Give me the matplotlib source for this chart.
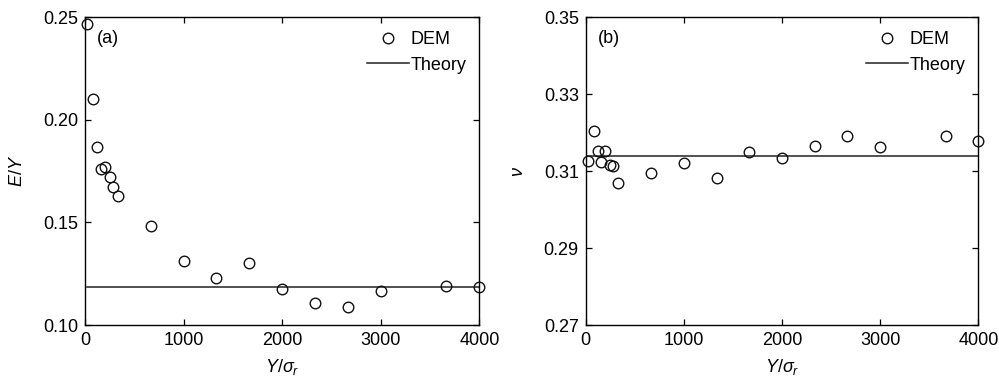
import matplotlib
matplotlib.use("Agg")
from matplotlib import pyplot as plt

plt.rcParams['font.family'] = ['Liberation Sans', 'DejaVu Sans']
plt.rcParams['mathtext.fontset'] = 'custom'
plt.rcParams['mathtext.rm'] = 'Liberation Sans'
plt.rcParams['mathtext.it'] = 'Liberation Sans:italic'

# DEM data
ratio = [25, 80, 125, 160, 200, 250, 280, 330, 667, 1000, 1333, 1667, 2000, 2333, 2667, 3000, 3667, 4000]
e_over_y = [0.2466, 0.2102, 0.1866, 0.1761, 0.1772, 0.1722, 0.1671, 0.1629, 0.1481, 0.1314,
            0.1229, 0.1301, 0.1176, 0.1109, 0.1090, 0.1164, 0.1192, 0.1184]
poisson = [0.3126, 0.3204, 0.3152, 0.3123, 0.3152, 0.3115, 0.3113, 0.3068, 0.3094, 0.3122,
           0.3082, 0.3149, 0.3134, 0.3165, 0.3191, 0.3163, 0.3191, 0.3178]

# theory lines
theory_x_a = [25, 4000]
theory_a = [0.1184, 0.1184]
theory_x_b = [0, 4000]
theory_b = [0.3140, 0.3140]

fs = 13
fig = plt.figure(figsize=(9.99, 3.83), dpi=100)
ax1 = fig.add_axes([0.0851, 0.1514, 0.3947, 0.8034])
ax2 = fig.add_axes([0.5863, 0.1514, 0.3930, 0.8034])

panels = [
    (ax1, e_over_y, theory_x_a, theory_a, "(a)", r"$E/Y$", (0.10, 0.25), [0.10, 0.15, 0.20, 0.25]),
    (ax2, poisson, theory_x_b, theory_b, "(b)", r"$\nu$", (0.27, 0.35), [0.27, 0.29, 0.31, 0.33, 0.35]),
]

for ax, vals, tx, ty, tag, ylab, ylim, yticks in panels:
    ax.plot(ratio, vals, "o", mfc="none", mec="#111111", ms=7.6, mew=1.0, label="DEM", clip_on=False, zorder=3)
    ax.plot(tx, ty, "-", color="#222222", lw=1.1, label="Theory")
    ax.set_xlim(0, 4000)
    ax.set_ylim(*ylim)
    ax.set_xticks([0, 1000, 2000, 3000, 4000])
    ax.set_yticks(yticks)
    ax.set_yticklabels(["%.2f" % v for v in yticks])
    ax.tick_params(direction="in", top=True, right=True, length=4.5, width=0.9, labelsize=fs, pad=5)
    for s in ax.spines.values():
        s.set_linewidth(1.0)
    ax.set_xlabel(r"$Y/\sigma_r$", fontsize=fs, labelpad=6)
    ax.set_ylabel(ylab, fontsize=fs, labelpad=12)
    ax.text(0.03, 0.93, tag, transform=ax.transAxes, fontsize=fs, va="center", ha="left")
    ax.legend(loc="upper right", frameon=False, fontsize=fs, handlelength=2.3, handletextpad=0.1,
              labelspacing=0.45, borderaxespad=0.3, bbox_to_anchor=(1.0, 0.995))

fig.savefig("out.png", dpi=100)
